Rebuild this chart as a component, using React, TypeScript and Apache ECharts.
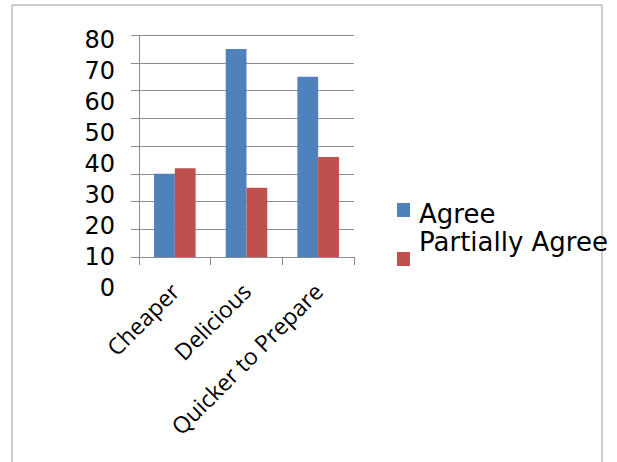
import React, { useEffect, useRef } from "react";
import * as echarts from "echarts";

const categories = ["Cheaper", "Delicious", "Quicker to Prepare"];
const agree = [30, 75, 65];
const partiallyAgree = [32, 25, 36];
const yMin = 0;
const yMax = 80;
const yInterval = 10;

export default function App() {
  const ref = useRef<HTMLDivElement>(null);
  useEffect(() => {
    if (!ref.current) return;
    const chart = echarts.init(ref.current, undefined, { renderer: "svg" });
    const gridColor = "#8c8c8c";
    chart.setOption({
      animation: false,
      backgroundColor: "#ffffff",
      graphic: [
        {
          type: "rect",
          shape: { x: 12, y: 5, width: 590, height: 470 },
          style: { fill: "none", stroke: "#9a9a9a", lineWidth: 1 },
          silent: true,
        },
      ],
      legend: [
        {
          data: ["Agree"],
          orient: "vertical",
          left: 397,
          top: 193,
          padding: 0,
          itemWidth: 13,
          itemHeight: 14,
          icon: "rect",
          formatter: (name: string) => "{s| }\n{t|" + name + "}",
          textStyle: {
            fontFamily: "DejaVu Sans",
            fontSize: 26,
            color: "#000",
            padding: [0, 0, 0, 4],
            rich: {
              s: { fontSize: 8, lineHeight: 8 },
              t: { fontFamily: "DejaVu Sans", fontSize: 26, lineHeight: 26, color: "#000" },
            },
          },
        },
        {
          data: ["Partially Agree"],
          orient: "vertical",
          left: 397,
          top: 229,
          padding: 0,
          itemWidth: 13,
          itemHeight: 14,
          icon: "rect",
          formatter: (name: string) => "{t|" + name + "}\n{s| }",
          textStyle: {
            fontFamily: "DejaVu Sans",
            fontSize: 26,
            color: "#000",
            padding: [0, 0, 0, 4],
            rich: {
              s: { fontSize: 24, lineHeight: 34 },
              t: { fontFamily: "DejaVu Sans", fontSize: 26, lineHeight: 26, color: "#000" },
            },
          },
        },
      ],
      grid: [
        { left: 139, top: 35, width: 215, height: 222 },
        { left: 139, top: 40, width: 215, height: 248 },
      ],
      xAxis: [
        {
          type: "category",
          gridIndex: 0,
          data: categories,
          axisLine: { lineStyle: { color: gridColor } },
          axisTick: { show: true, length: 8, lineStyle: { color: gridColor } },
          axisLabel: {
            rotate: 45,
            margin: 30,
            fontFamily: "Open Sans",
            fontSize: 23,
            color: "#000",
          },
        },
        {
          type: "category",
          gridIndex: 1,
          data: categories,
          show: false,
        },
      ],
      yAxis: [
        {
          type: "value",
          gridIndex: 0,
          min: yMin,
          max: yMax,
          interval: yInterval,
          axisLine: { show: true, lineStyle: { color: gridColor } },
          axisTick: { show: true, length: 8, lineStyle: { color: gridColor } },
          axisLabel: { show: false },
          splitLine: { show: true, lineStyle: { color: gridColor } },
        },
        {
          type: "value",
          gridIndex: 1,
          min: yMin,
          max: yMax,
          interval: yInterval,
          axisLine: { show: false },
          axisTick: { show: false },
          splitLine: { show: false },
          axisLabel: {
            margin: 24,
            fontFamily: "DejaVu Sans",
            fontSize: 24,
            color: "#000",
          },
        },
      ],
      series: [
        {
          name: "Agree",
          type: "bar",
          xAxisIndex: 0,
          yAxisIndex: 0,
          data: agree,
          barGap: "0%",
          barCategoryGap: "42%",
          itemStyle: { color: "#4F81BD" },
        },
        {
          name: "Partially Agree",
          type: "bar",
          xAxisIndex: 0,
          yAxisIndex: 0,
          data: partiallyAgree,
          itemStyle: { color: "#C0504D" },
        },
      ],
    });
    return () => chart.dispose();
  }, []);
  return <div ref={ref} style={{ width: 617, height: 462, position: "absolute", left: 0, top: 0 }} />;
}
